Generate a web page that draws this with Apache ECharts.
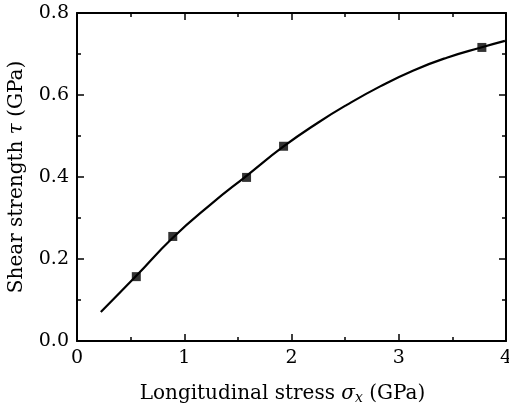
<!DOCTYPE html>
<html>
<head>
<meta charset="utf-8">
<script src="https://cdn.jsdelivr.net/npm/echarts@6/dist/echarts.min.js"></script>
<style>html,body{margin:0;padding:0;background:#fff}#c{width:509px;height:406px}</style>
</head>
<body>
<div id="c"></div>
<script>
// Fitted curve
const curveX = [0.222, 0.553, 0.893, 1.25, 1.581, 1.926, 2.25, 2.516, 2.827, 3.137, 3.448, 3.775, 3.99];
const curveY = [0.0707, 0.159, 0.252, 0.334, 0.403, 0.4745, 0.533, 0.576, 0.621, 0.660, 0.691, 0.7165, 0.732];
// Measured points
const pointX = [0.553, 0.893, 1.581, 1.926, 3.775];
const pointY = [0.157, 0.255, 0.399, 0.475, 0.716];
const xTicks = [0, 1, 2, 3, 4];
const yTicks = [0.0, 0.2, 0.4, 0.6, 0.8];

const FONT = 'DejaVu Serif';
const chart = echarts.init(document.getElementById('c'));
const lineStyle = {color: '#000', width: 2};
function baseX(pos, showLabel) {
  return {
    type: 'value', position: pos, min: 0, max: 4, interval: 1,
    axisLine: {show: true, onZero: false, lineStyle: lineStyle},
    axisTick: {show: true, inside: true, length: 7, lineStyle: {color: '#000', width: 1.5}},
    minorTick: {show: true, splitNumber: 2, length: 4, lineStyle: {color: '#000', width: 1.5}},
    splitLine: {show: false},
    axisLabel: {show: showLabel, color: '#000', fontFamily: FONT, fontSize: 19, margin: 8,
      formatter: v => xTicks.includes(v) ? String(v) : ''}
  };
}
function baseY(pos, showLabel) {
  return {
    type: 'value', position: pos, min: 0, max: 0.8, interval: 0.2,
    axisLine: {show: true, onZero: false, lineStyle: lineStyle},
    axisTick: {show: true, inside: true, length: 7, lineStyle: {color: '#000', width: 1.5}},
    minorTick: {show: true, splitNumber: 2, length: 4, lineStyle: {color: '#000', width: 1.5}},
    splitLine: {show: false},
    axisLabel: {show: showLabel, color: '#000', fontFamily: FONT, fontSize: 19, margin: 8,
      formatter: v => { const t = yTicks.find(a => Math.abs(a - v) < 1e-9); return t === undefined ? '' : t.toFixed(1); }}
  };
}
const xb = baseX('bottom', true);
xb.name = '{a|Longitudinal stress }{i|σ}{s|x}{a| (GPa)}';
xb.nameLocation = 'middle';
xb.nameGap = 42;
xb.nameTextStyle = {padding: [0, 18, 0, 0], rich: {
  a: {fontFamily: FONT, fontSize: 20, color: '#000'},
  i: {fontFamily: FONT, fontStyle: 'italic', fontSize: 20, color: '#000'},
  s: {fontFamily: FONT, fontStyle: 'italic', fontSize: 14, color: '#000', verticalAlign: 'bottom', padding: [8, 0, 0, 0]}
}};
const yl = baseY('left', true);
yl.name = '{a|Shear strength }{i|τ}{a| (GPa)}';
yl.nameLocation = 'middle';
yl.nameGap = 50;
yl.nameRotate = 90;
yl.nameTextStyle = {rich: {
  a: {fontFamily: FONT, fontSize: 20, color: '#000'},
  i: {fontFamily: FONT, fontStyle: 'italic', fontSize: 20, color: '#000'}
}};
chart.setOption({
  animation: false,
  backgroundColor: '#fff',
  grid: {left: 77, right: 3, top: 13, bottom: 65, containLabel: false, outerBoundsMode: 'none'},
  xAxis: [xb, baseX('top', false)],
  yAxis: [yl, baseY('right', false)],
  series: [
    {type: 'line', xAxisIndex: 0, yAxisIndex: 0, smooth: 0.5, showSymbol: false,
     lineStyle: {color: '#000', width: 2.2}, data: curveX.map((x, i) => [x, curveY[i]])},
    {type: 'scatter', xAxisIndex: 0, yAxisIndex: 0, symbol: 'rect', symbolSize: 9,
     itemStyle: {color: '#000'}, data: pointX.map((x, i) => [x, pointY[i]])}
  ]
});
</script>
</body>
</html>
